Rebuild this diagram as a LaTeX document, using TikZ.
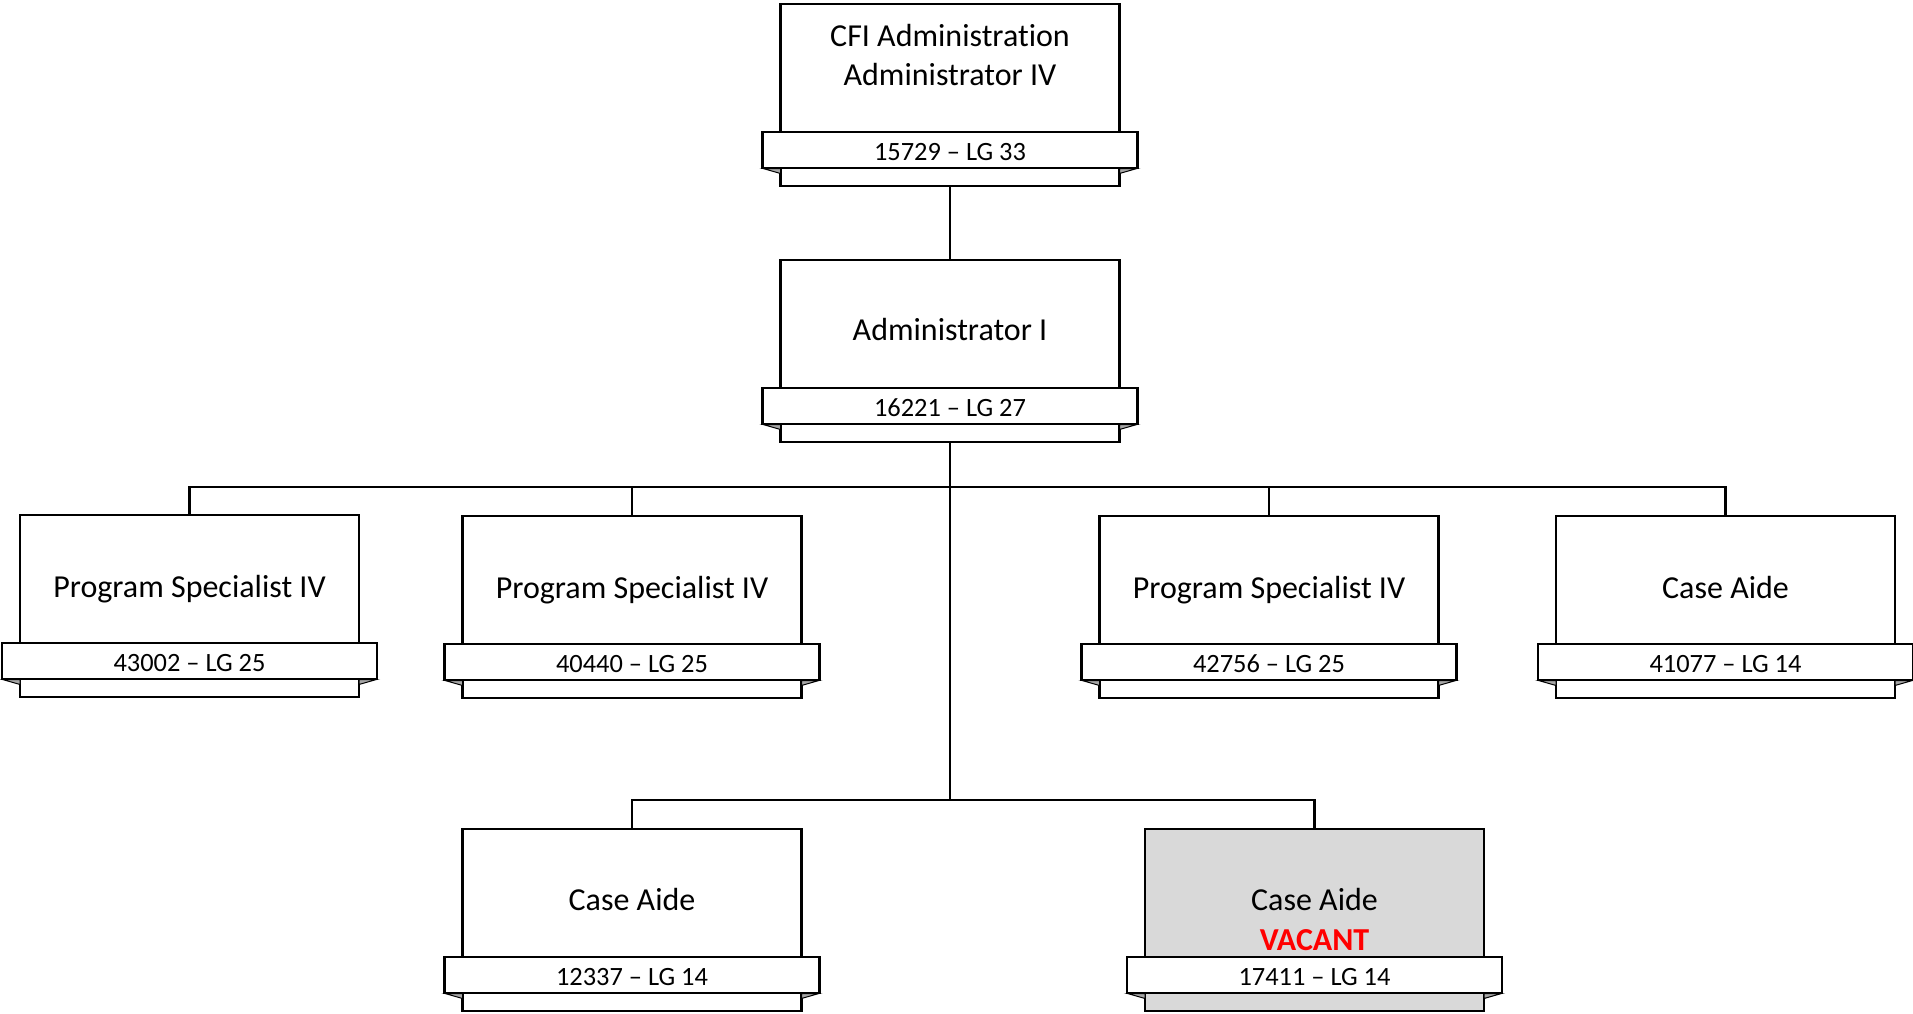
\documentclass[tikz,border=0pt]{standalone}
\usepackage{fontspec}
\setmainfont[Ligatures={NoCommon}]{Carlito}
\usetikzlibrary{calc}
\definecolor{vacgray}{HTML}{D9D9D9}
\definecolor{foldgray}{HTML}{A6A6A6}
\definecolor{vacred}{HTML}{FF0000}
\tikzset{
  x=0.5pt, y=-0.5pt,
  posbox/.style={draw=black, line width=1.1pt, fill=white, minimum width=169.5pt, minimum height=91pt, inner sep=0pt, outer sep=0pt},
  ribbon/.style={draw=black, line width=1.1pt, fill=white, minimum width=187.5pt, minimum height=18pt, inner sep=0pt, outer sep=0pt, text height=9.7pt, text depth=0pt, font=\fontsize{13.2}{15}\selectfont},
  fold/.style={draw=black, line width=0.5pt, fill=foldgray},
  title/.style={inner sep=0pt, anchor=base, font=\fontsize{16}{18}\selectfont},
  vacant/.style={inner sep=0pt, anchor=base, text=vacred, font=\fontsize{16}{18}\selectfont\bfseries},
  link/.style={draw=black, line width=1.2pt},
}
% #1 name, #2 centre x, #3 top y, #4 box fill, #5 ribbon text
\newcommand{\orgunit}[5]{%
  \node[posbox, fill=#4] (#1) at (#2, #3+91) {};
  \filldraw[fold] ($(#1.south west)+(-17.5,-17.5)$) -- ($(#1.south west)+(0,-17.5)$) -- ($(#1.south west)+(0,-12.5)$) -- cycle;
  \filldraw[fold] ($(#1.south east)+(17.5,-17.5)$) -- ($(#1.south east)+(0,-17.5)$) -- ($(#1.south east)+(0,-12.5)$) -- cycle;
  \node[ribbon] (#1-r) at ($(#1.south)+(0,-35.7)$) {#5};
}
\begin{document}
\begin{tikzpicture}
\useasboundingbox (0,0) rectangle (1913,1013);

\orgunit{top}{950}{4}{white}{15729 – LG 33}
\node[title] (top-t1) at (950,46.7) {CFI Administration};
\node[title] (top-t2) at (950,85) {Administrator IV};

\orgunit{adm}{950}{260}{white}{16221 – LG 27}
\node[title] (adm-t) at (950,340.7) {Administrator I};

\orgunit{ps1}{189.5}{515}{white}{43002 – LG 25}
\node[title] (ps1-t) at (189.5,597) {Program Specialist IV};
\orgunit{ps2}{632}{516}{white}{40440 – LG 25}
\node[title] (ps2-t) at (632,598) {Program Specialist IV};
\orgunit{ps3}{1269}{516}{white}{42756 – LG 25}
\node[title] (ps3-t) at (1269,598) {Program Specialist IV};
\orgunit{ca4}{1725.5}{516}{white}{41077 – LG 14}
\node[title] (ca4-t) at (1725.5,598.3) {Case Aide};

\orgunit{ca5}{632}{829}{white}{12337 – LG 14}
\node[title] (ca5-t) at (632,910.7) {Case Aide};
\orgunit{ca6}{1314.5}{829}{vacgray}{17411 – LG 14}
\node[title] (ca6-t) at (1314.5,910.7) {Case Aide};
\node[vacant] (ca6-v) at (1314.5,950) {VACANT};

\coordinate (bus1) at (950,487);
\coordinate (bus2) at (950,800);

\draw[link] (top.south) -- (adm.north);
\draw[link] (adm.south) -- (bus2);
\draw[link] (ps1.north) |- (bus1) -| (ca4.north);
\draw[link] (ps2.north) |- (bus1);
\draw[link] (ps3.north) |- (bus1);
\draw[link] (ca5.north) |- (bus2) -| (ca6.north);
\end{tikzpicture}
\end{document}
